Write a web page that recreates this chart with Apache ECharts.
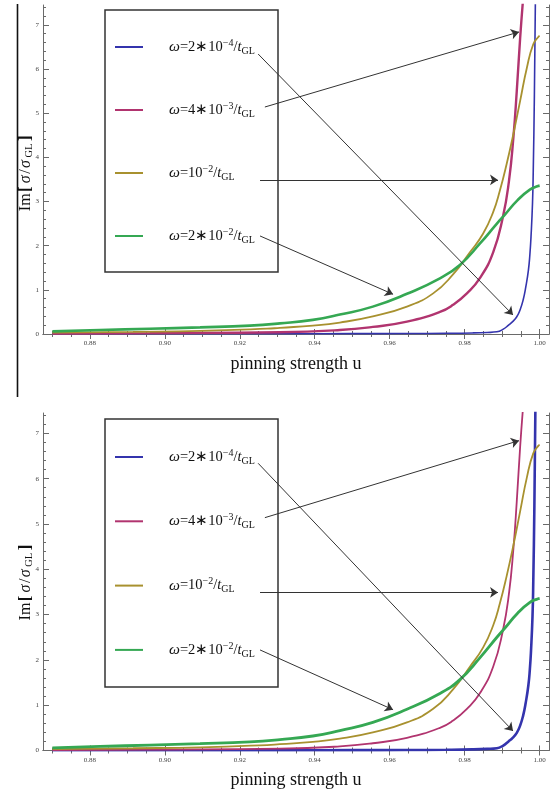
<!DOCTYPE html>
<html>
<head>
<meta charset="utf-8">
<script src="https://cdn.jsdelivr.net/npm/echarts@6/dist/echarts.min.js"></script>
<style>
  html, body { margin: 0; padding: 0; background: #fff; }
  #chart { width: 555px; height: 794px; }
</style>
</head>
<body>
<div id="chart"></div>
<script>
// Im[sigma/sigma_GL] versus pinning strength u, for four drive frequencies

// omega = 2*10^-4 / t_GL
const uBlue = [0.870, 0.900, 0.930, 0.950, 0.965, 0.975, 0.982, 0.986, 0.9886, 0.9903, 0.9917, 0.9928, 0.9939, 0.9948, 0.9956, 0.9963, 0.9970, 0.9974, 0.9977, 0.9981, 0.9983, 0.9986, 0.9989];
const vBlue = [0.004, 0.005, 0.006, 0.008, 0.011, 0.016, 0.024, 0.035, 0.05, 0.11, 0.20, 0.28, 0.39, 0.55, 0.77, 1.06, 1.44, 1.80, 2.20, 2.96, 3.70, 5.40, 7.80];

// omega = 4*10^-3 / t_GL
const uMagenta = [0.870, 0.8960, 0.9307, 0.9467, 0.9555, 0.9646, 0.9734, 0.9769, 0.9806, 0.9841, 0.9876, 0.9902, 0.9918, 0.9930, 0.9939, 0.9948, 0.9956];
const vMagenta = [0.01, 0.02, 0.04, 0.09, 0.16, 0.28, 0.50, 0.66, 0.92, 1.27, 1.85, 2.65, 3.45, 4.45, 5.50, 6.70, 7.60];

// omega = 10^-2 / t_GL
const uOlive = [0.870, 0.8915, 0.9094, 0.9273, 0.9307, 0.9395, 0.9467, 0.9555, 0.9646, 0.9716, 0.9769, 0.9814, 0.9849, 0.9876, 0.9894, 0.9912, 0.9930, 0.9948, 0.9966, 0.9983, 0.9997, 1.0000];
const vOlive = [0.03, 0.05, 0.07, 0.12, 0.14, 0.19, 0.26, 0.40, 0.62, 0.92, 1.35, 1.85, 2.27, 2.76, 3.25, 3.85, 4.53, 5.28, 6.03, 6.56, 6.73, 6.75];

// omega = 2*10^-2 / t_GL
const uGreen = [0.870, 0.8827, 0.8960, 0.9094, 0.9227, 0.9307, 0.9395, 0.9467, 0.9555, 0.9646, 0.9734, 0.9788, 0.9841, 0.9886, 0.9908, 0.9940, 0.9974, 0.9996, 1.0000];
const vGreen = [0.06, 0.09, 0.12, 0.15, 0.19, 0.24, 0.32, 0.44, 0.62, 0.91, 1.26, 1.57, 2.05, 2.50, 2.71, 3.02, 3.27, 3.35, 3.36];

// tick marks of the frame
const xMajorTicks = [0.88, 0.90, 0.92, 0.94, 0.96, 0.98, 1.00];
const xMinorTicks = [0.870, 0.875, 0.885, 0.890, 0.895, 0.905, 0.910, 0.915, 0.925, 0.930, 0.935, 0.945, 0.950, 0.955, 0.965, 0.970, 0.975, 0.985, 0.990, 0.995];
const yMajorTicks = [0, 1, 2, 3, 4, 5, 6, 7];
const yMinorTicks = [0.2, 0.4, 0.6, 0.8, 1.2, 1.4, 1.6, 1.8, 2.2, 2.4, 2.6, 2.8, 3.2, 3.4, 3.6, 3.8, 4.2, 4.4, 4.6, 4.8, 5.2, 5.4, 5.6, 5.8, 6.2, 6.4, 6.6, 6.8, 7.2, 7.4];

// legend texts (rich-text markup)
const legendLabels = [
  '{w|ω}{n|=2∗10}{sup|−4}{n|/}{t|t}{sub|GL}',
  '{w|ω}{n|=4∗10}{sup|−3}{n|/}{t|t}{sub|GL}',
  '{w|ω}{n|=10}{sup|−2}{n|/}{t|t}{sub|GL}',
  '{w|ω}{n|=2∗10}{sup|−2}{n|/}{t|t}{sub|GL}'
];

// y-axis title (rich-text markup)
const yTitle = '{n|Im}{b|[}{i|σ}{n|/}{i|σ}{s|GL}{b|]}';

// annotation arrows: from the legend text to its curve, in data coordinates
const arrowFrom = [[0.9249, 6.34], [0.9267, 5.14], [0.9254, 3.49], [0.9254, 2.22]];
const arrowTo   = [[0.9929, 0.43], [0.9945, 6.84], [0.9889, 3.49], [0.9609, 0.90]];

const curveU = [uBlue, uMagenta, uOlive, uGreen];
const curveV = [vBlue, vMagenta, vOlive, vGreen];
const curveColors = ['#3434ad', '#b1346f', '#a8912f', '#35a853'];
const lineWidthsTop = [1.6, 2.4, 1.8, 2.6];
const lineWidthsBottom = [2.6, 1.8, 1.8, 2.8];

const X_MIN = 0.8675, X_MAX = 1.0025, Y_MIN = 0, Y_MAX = 7.45;
const SERIF = 'Liberation Serif';
const FRAME = '#6a6a6a';

function zip(us, vs) { return us.map((u, i) => [u, vs[i]]); }

function xAxisSet(gridIndex) {
  const base = { type: 'value', gridIndex, min: X_MIN, max: X_MAX, splitLine: { show: false } };
  return [
    Object.assign({}, base, {
      position: 'bottom',
      axisLine: { show: true, lineStyle: { color: FRAME, width: 1 } },
      axisTick: { show: true, inside: true, length: 5, customValues: xMajorTicks, lineStyle: { color: FRAME } },
      axisLabel: { show: true, customValues: xMajorTicks, margin: 6, fontFamily: SERIF, fontSize: 7, color: '#444',
                   formatter: v => v.toFixed(2) },
      name: 'pinning strength u', nameLocation: 'middle', nameGap: 21,
      nameTextStyle: { fontFamily: SERIF, fontSize: 18, color: '#111' }
    }),
    Object.assign({}, base, {
      position: 'bottom',
      axisLine: { show: false },
      axisTick: { show: true, inside: true, length: 3, customValues: xMinorTicks, lineStyle: { color: FRAME } },
      axisLabel: { show: false }
    }),
    Object.assign({}, base, {
      position: 'top',
      axisLine: { show: true, lineStyle: { color: FRAME, width: 1 } },
      axisTick: { show: true, inside: true, length: 5, customValues: xMajorTicks, lineStyle: { color: FRAME } },
      axisLabel: { show: false }
    }),
    Object.assign({}, base, {
      position: 'top',
      axisLine: { show: false },
      axisTick: { show: true, inside: true, length: 3, customValues: xMinorTicks, lineStyle: { color: FRAME } },
      axisLabel: { show: false }
    })
  ];
}

function yAxisSet(gridIndex, titlePadding) {
  const base = { type: 'value', gridIndex, min: Y_MIN, max: Y_MAX, splitLine: { show: false } };
  return [
    Object.assign({}, base, {
      position: 'left',
      axisLine: { show: true, lineStyle: { color: FRAME, width: 1 } },
      axisTick: { show: true, inside: true, length: 6, customValues: yMajorTicks, lineStyle: { color: FRAME } },
      axisLabel: { show: true, customValues: yMajorTicks, margin: 4, fontFamily: SERIF, fontSize: 7, color: '#444' },
      name: yTitle, nameLocation: 'middle', nameGap: 8, nameMoveOverlap: false,
      nameTextStyle: {
        fontFamily: SERIF, fontSize: 16, color: '#111', padding: titlePadding,
        rich: {
          n: { fontFamily: SERIF, fontSize: 16, color: '#111', lineHeight: 18 },
          b: { fontFamily: SERIF, fontSize: 17, fontWeight: 'bold', color: '#111', lineHeight: 18, padding: [0, 1.5] },
          i: { fontFamily: SERIF, fontSize: 16, fontStyle: 'italic', color: '#111', lineHeight: 18, padding: [0, 1.5] },
          s: { fontFamily: SERIF, fontSize: 10.5, color: '#111', lineHeight: 9, verticalAlign: 'bottom', padding: [0, 1] }
        }
      }
    }),
    Object.assign({}, base, {
      position: 'left',
      axisLine: { show: false },
      axisTick: { show: true, inside: true, length: 3, customValues: yMinorTicks, lineStyle: { color: FRAME } },
      axisLabel: { show: false }
    }),
    Object.assign({}, base, {
      position: 'right',
      axisLine: { show: true, lineStyle: { color: FRAME, width: 1 } },
      axisTick: { show: true, inside: true, length: 6, customValues: yMajorTicks, lineStyle: { color: FRAME } },
      axisLabel: { show: false }
    }),
    Object.assign({}, base, {
      position: 'right',
      axisLine: { show: false },
      axisTick: { show: true, inside: true, length: 3, customValues: yMinorTicks, lineStyle: { color: FRAME } },
      axisLabel: { show: false }
    })
  ];
}

function panelSeries(panel, widths, names) {
  const axisIndex = panel * 4;
  return curveU.map((us, k) => ({
    type: 'line',
    name: names[k],
    xAxisIndex: axisIndex,
    yAxisIndex: axisIndex,
    data: zip(us, curveV[k]),
    symbol: 'none',
    smooth: 0.5,
    clip: true,
    z: 3,
    lineStyle: { color: curveColors[k], width: widths[k] },
    itemStyle: { color: curveColors[k] },
    markLine: {
      silent: true,
      animation: false,
      symbol: ['none', 'arrow'],
      symbolSize: 8,
      label: { show: false },
      lineStyle: { color: '#333', width: 1, type: 'solid' },
      data: [[{ coord: arrowFrom[k] }, { coord: arrowTo[k] }]]
    }
  }));
}

const namesTop = ['w1 top', 'w2 top', 'w3 top', 'w4 top'];
const namesBottom = ['w1 bottom', 'w2 bottom', 'w3 bottom', 'w4 bottom'];
const labelOf = {};
namesTop.forEach((n, i) => { labelOf[n] = legendLabels[i]; });
namesBottom.forEach((n, i) => { labelOf[n] = legendLabels[i]; });

const legendRich = {
  n: { fontFamily: SERIF, fontSize: 14.5, color: '#111', lineHeight: 18 },
  w: { fontFamily: SERIF, fontSize: 15.5, fontStyle: 'italic', color: '#111', lineHeight: 18 },
  t: { fontFamily: SERIF, fontSize: 14.5, fontStyle: 'italic', color: '#111', lineHeight: 18 },
  sup: { fontFamily: SERIF, fontSize: 10, color: '#111', lineHeight: 9, verticalAlign: 'top' },
  sub: { fontFamily: SERIF, fontSize: 10, color: '#111', lineHeight: 8, verticalAlign: 'bottom' }
};

function legendFor(names, top, gap) {
  return {
    orient: 'vertical', left: 114, top: top, padding: 0,
    itemWidth: 28, itemHeight: 14, itemGap: gap,
    selectedMode: false,
    data: names,
    formatter: n => labelOf[n],
    itemStyle: { color: 'rgba(0,0,0,0)', borderColor: 'rgba(0,0,0,0)', borderWidth: 0 },
    textStyle: { padding: [0, 0, 0, 21], rich: legendRich }
  };
}

const chart = echarts.init(document.getElementById('chart'), null, { renderer: 'canvas' });
chart.setOption({
  animation: false,
  backgroundColor: '#fff',
  grid: [
    { left: 43, top: 5, width: 506, height: 329 },
    { left: 43, top: 413, width: 506, height: 337.5 }
  ],
  xAxis: xAxisSet(0).concat(xAxisSet(1)),
  yAxis: yAxisSet(0, [0, 6, 0, 0]).concat(yAxisSet(1, [0, 0, 0, 0])),
  legend: [legendFor(namesTop, 38, 45), legendFor(namesBottom, 448, 46.3)],
  graphic: [
    { type: 'rect', shape: { x: 105, y: 10, width: 173, height: 262 },
      style: { fill: 'none', stroke: '#333', lineWidth: 1.5 }, z: 10 },
    { type: 'rect', shape: { x: 105, y: 419, width: 173, height: 268 },
      style: { fill: 'none', stroke: '#333', lineWidth: 1.5 }, z: 10 },
    { type: 'line', shape: { x1: 17.5, y1: 4, x2: 17.5, y2: 397 },
      style: { stroke: '#111', lineWidth: 1.6 }, z: 10 }
  ],
  series: panelSeries(0, lineWidthsTop, namesTop).concat(panelSeries(1, lineWidthsBottom, namesBottom))
});
</script>
</body>
</html>
